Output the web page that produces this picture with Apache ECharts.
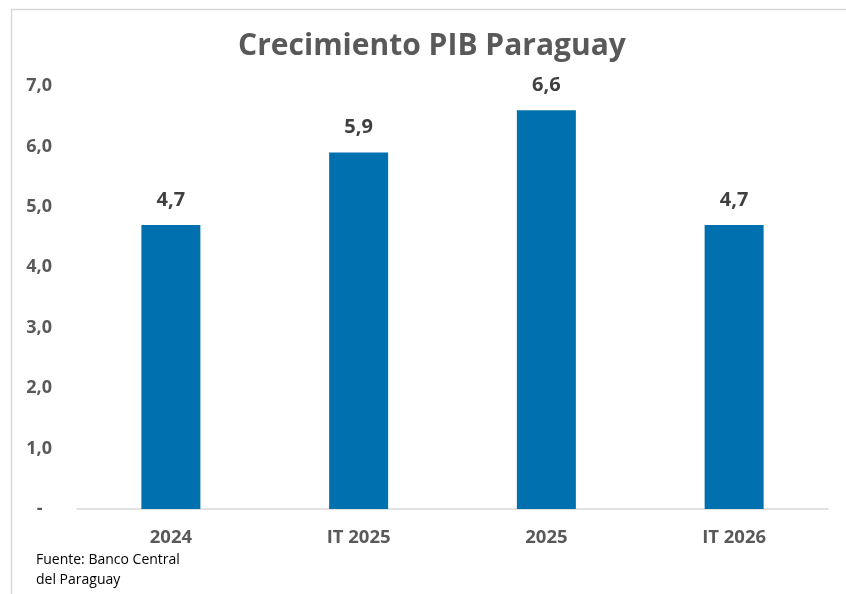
<!DOCTYPE html>
<html lang="es">
<head>
    <meta charset="utf-8">
    <title>Crecimiento PIB Paraguay</title>
    <style>
        html, body { margin: 0; padding: 0; background: #ffffff; }
        #chart { width: 846px; height: 594px; }
    </style>
</head>
<body>
    <div id="chart"></div>
    <script src="https://cdn.jsdelivr.net/npm/echarts@6/dist/echarts.min.js"></script>
    <script>
        var categories = ["2024", "IT 2025", "2025", "IT 2026"];
        var growth = [4.7, 5.9, 6.6, 4.7];
        var yTicks = [0, 1, 2, 3, 4, 5, 6, 7];

        var font = "'Open Sans', 'Noto Sans', sans-serif";
        var chart = echarts.init(document.getElementById("chart"), null, { renderer: "canvas" });

        function comma(v, d) {
            return v.toFixed(d).replace(".", ",");
        }

        chart.setOption({
            animation: false,
            title: {
                text: "Crecimiento PIB Paraguay",
                left: 427,
                textAlign: "center",
                top: 26,
                textStyle: { fontFamily: font, fontSize: 30, fontWeight: "bold", color: "#595959" }
            },
            graphic: [
                {
                    type: "rect",
                    shape: { x: 11.5, y: 9.5, width: 900, height: 700 },
                    style: { fill: "none", stroke: "#d9d9d9", lineWidth: 1.5 }
                },
                {
                    type: "text",
                    left: 36,
                    top: 550,
                    style: {
                        text: "Fuente: Banco Central\ndel Paraguay",
                        fontFamily: font,
                        fontSize: 14,
                        lineHeight: 20,
                        fill: "#000000"
                    }
                }
            ],
            grid: { left: 77, right: 18, top: 86, bottom: 85 },
            xAxis: {
                type: "category",
                data: categories,
                axisLine: { lineStyle: { color: "#d9d9d9", width: 1.5 } },
                axisTick: { show: false },
                axisLabel: {
                    margin: 19,
                    fontFamily: font,
                    fontSize: 18.5,
                    fontWeight: "bold",
                    color: "#595959"
                }
            },
            yAxis: {
                type: "value",
                min: yTicks[0],
                max: yTicks[yTicks.length - 1],
                interval: 1,
                splitLine: { show: false },
                axisLine: { show: false },
                axisTick: { show: false },
                axisLabel: {
                    margin: 25,
                    fontFamily: font,
                    fontSize: 18,
                    fontWeight: "bold",
                    color: "#595959",
                    formatter: function (v) {
                        return v === 0 ? "-  " : comma(v, 1);
                    }
                }
            },
            series: [{
                type: "bar",
                data: growth,
                barWidth: 59,
                itemStyle: { color: "#0071AE" },
                label: {
                    show: true,
                    position: "top",
                    distance: 15,
                    fontFamily: font,
                    fontSize: 20,
                    fontWeight: "bold",
                    color: "#404040",
                    formatter: function (p) { return comma(p.value, 1); }
                }
            }]
        });
    </script>
</body>
</html>
